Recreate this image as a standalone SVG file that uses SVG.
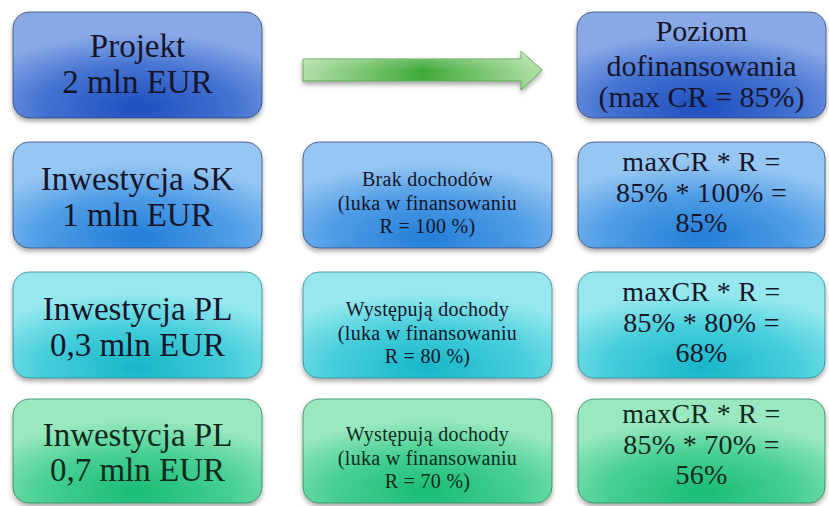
<svg xmlns="http://www.w3.org/2000/svg" width="829" height="506" viewBox="0 0 829 506">
<defs>
<filter id="sh" x="-10%" y="-10%" width="120%" height="130%">
<feDropShadow dx="0" dy="3" stdDeviation="2.5" flood-color="#000" flood-opacity="0.35"/>
</filter>
<radialGradient id="g1" cx="50%" cy="90%" r="70%" fx="50%" fy="90%">
<stop offset="0" stop-color="#1f4fc0"/>
<stop offset="0.55" stop-color="#4472d2"/>
<stop offset="1" stop-color="#88a8e6"/>
</radialGradient>
<radialGradient id="g2" cx="50%" cy="90%" r="70%" fx="50%" fy="90%">
<stop offset="0" stop-color="#247ed8"/>
<stop offset="0.55" stop-color="#4e9ce6"/>
<stop offset="1" stop-color="#96c6f2"/>
</radialGradient>
<radialGradient id="g3" cx="50%" cy="90%" r="70%" fx="50%" fy="90%">
<stop offset="0" stop-color="#18b6c8"/>
<stop offset="0.55" stop-color="#46cedb"/>
<stop offset="1" stop-color="#96e8ee"/>
</radialGradient>
<radialGradient id="g4" cx="50%" cy="90%" r="70%" fx="50%" fy="90%">
<stop offset="0" stop-color="#18bc72"/>
<stop offset="0.55" stop-color="#48d094"/>
<stop offset="1" stop-color="#9ae8c0"/>
</radialGradient>
<linearGradient id="ga" x1="0" y1="0" x2="1" y2="0">
<stop offset="0" stop-color="#b2e0a8"/>
<stop offset="0.5" stop-color="#3faa38"/>
<stop offset="1" stop-color="#b2e0a8"/>
</linearGradient>
<linearGradient id="gav" x1="0" y1="0" x2="0" y2="1">
<stop offset="0" stop-color="#fff" stop-opacity="0.35"/>
<stop offset="0.5" stop-color="#fff" stop-opacity="0"/>
<stop offset="1" stop-color="#000" stop-opacity="0.05"/>
</linearGradient>
</defs>
<style>
.box{stroke:#2a3f6a;stroke-opacity:0.7;stroke-width:1;filter:url(#sh)}
.r1{fill:url(#g1)}
.r2{fill:url(#g2)}
.r3{fill:url(#g3);stroke:#1f7f8a}
.r4{fill:url(#g4);stroke:#1f7f50}
text{fill:#15152a;text-anchor:middle}
.big{font-size:33px}
.med{font-size:30px}
.calc{font-size:28px;letter-spacing:0.3px}
.sm{font-size:20px;letter-spacing:0.3px}
.g text{fill:#0e2a1c}
</style>
<rect width="829" height="506" fill="#ffffff"/>

<g id="connectors">
<g id="arrow" filter="url(#sh)">
<path d="M303,59 H521 V51 L542,70 L521,90 V81 H303 Z" fill="url(#ga)" stroke="#5aaa50" stroke-width="1"/>
<path d="M303,59 H521 V51 L542,70 L521,90 V81 H303 Z" fill="url(#gav)"/>
</g>
</g>

<g font-family="'Liberation Serif', 'DejaVu Serif', serif">
<g id="projekt">
<rect class="box r1" x="13" y="12" width="249" height="106" rx="16"/>
<text class="big" x="137.5" y="57">Projekt</text>
<text class="big" x="137.5" y="93">2 mln EUR</text>
</g>
<g id="poziom">
<rect class="box r1" x="577" y="12" width="249" height="106" rx="16"/>
<text class="med" x="701.5" y="41">Poziom</text>
<text class="med" x="701.5" y="76">dofinansowania</text>
<text class="med" x="701.5" y="107">(max CR = 85%)</text>
</g>

<g id="inw-sk">
<rect class="box r2" x="13" y="142" width="249" height="106" rx="16"/>
<text class="big" x="137.5" y="190">Inwestycja SK</text>
<text class="big" x="137.5" y="226">1 mln EUR</text>
</g>
<g id="brak">
<rect class="box r2" x="303" y="142" width="249" height="106" rx="16"/>
<text class="sm" x="427.5" y="186">Brak dochodów</text>
<text class="sm" x="427.5" y="209.5">(luka w finansowaniu</text>
<text class="sm" x="427.5" y="233">R = 100 %)</text>
</g>
<g id="calc-sk">
<rect class="box r2" x="578" y="142" width="247" height="106" rx="16"/>
<text class="calc" x="701.5" y="171">maxCR * R =</text>
<text class="calc" x="701.5" y="201.5">85% * 100% =</text>
<text class="calc" x="701.5" y="232">85%</text>
</g>

<g id="inw-pl1">
<rect class="box r3" x="13" y="272" width="249" height="106" rx="16"/>
<text class="big" x="137.5" y="320">Inwestycja PL</text>
<text class="big" x="137.5" y="356">0,3 mln EUR</text>
</g>
<g id="wyst1">
<rect class="box r3" x="303" y="272" width="249" height="106" rx="16"/>
<text class="sm" x="427.5" y="316">Występują dochody</text>
<text class="sm" x="427.5" y="339.5">(luka w finansowaniu</text>
<text class="sm" x="427.5" y="363">R = 80 %)</text>
</g>
<g id="calc-pl1">
<rect class="box r3" x="578" y="272" width="247" height="106" rx="16"/>
<text class="calc" x="701.5" y="301">maxCR * R =</text>
<text class="calc" x="701.5" y="331.5">85% * 80% =</text>
<text class="calc" x="701.5" y="362">68%</text>
</g>

<g id="inw-pl2" class="g">
<rect class="box r4" x="13" y="399" width="249" height="104" rx="16"/>
<text class="big" x="137.5" y="446">Inwestycja PL</text>
<text class="big" x="137.5" y="481">0,7 mln EUR</text>
</g>
<g id="wyst2" class="g">
<rect class="box r4" x="303" y="399" width="249" height="104" rx="16"/>
<text class="sm" x="427.5" y="441">Występują dochody</text>
<text class="sm" x="427.5" y="464.5">(luka w finansowaniu</text>
<text class="sm" x="427.5" y="488">R = 70 %)</text>
</g>
<g id="calc-pl2" class="g">
<rect class="box r4" x="578" y="399" width="247" height="104" rx="16"/>
<text class="calc" x="701.5" y="423">maxCR * R =</text>
<text class="calc" x="701.5" y="453.5">85% * 70% =</text>
<text class="calc" x="701.5" y="484">56%</text>
</g>
</g>
</svg>
